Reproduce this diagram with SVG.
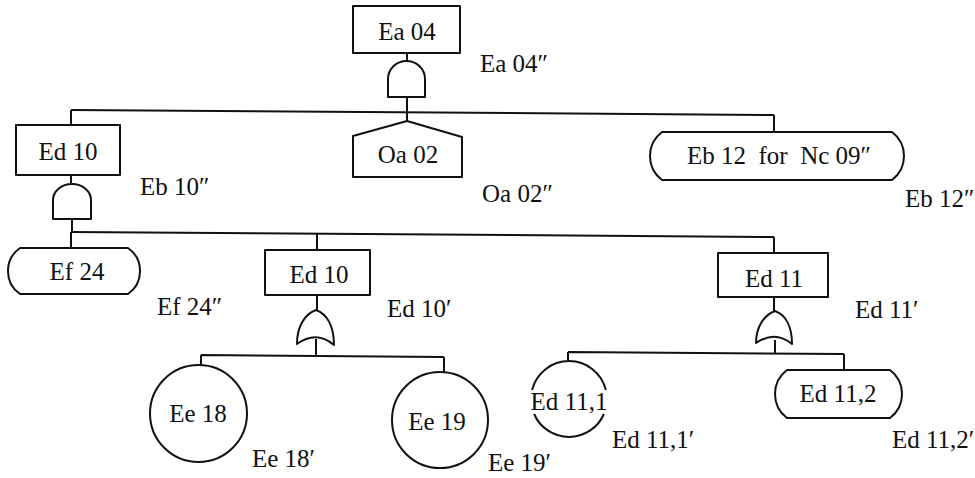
<svg xmlns="http://www.w3.org/2000/svg" width="975" height="478" viewBox="0 0 975 478">
<style>
.s{fill:none;stroke:#111;stroke-width:2;stroke-linejoin:round}
.n{fill:#fff;stroke:#111;stroke-width:2;stroke-linejoin:round}
text{font-family:'Liberation Serif','DejaVu Serif',serif;font-size:25px;fill:#111}
.c{text-anchor:middle}
</style>
<rect width="975" height="478" fill="#fff"/>
<g id="connectors" class="s">
<path d="M407,53V61M407,97V121"/>
<path d="M71,110L774,115"/>
<path d="M71,110V125M774,115V132"/>
<path d="M71,175V184M72,219V232"/>
<path d="M71,232L774,237"/>
<path d="M71,232V248M317,233V250M774,237V253"/>
<path d="M317,295V310M316,339V355"/>
<path d="M201,355L444,357M201,355V365M444,357V372"/>
<path d="M774,297V311M775,340V353"/>
<path d="M568,352L844,354M568,352V360M844,354V370"/>
</g>
<g id="Ea04">
<rect class="n" x="353" y="6" width="107" height="47"/>
<text class="c" x="407" y="40">Ea 04</text>
<text x="480" y="72">Ea 04″</text>
</g>
<g id="gate-and-1"><path class="n" d="M388,97V79A18.5,18 0 0 1 425,79V97Z"/></g>
<g id="Oa02">
<path class="n" d="M407,121L462,137V177H353V136Z"/>
<text class="c" x="408" y="163">Oa 02</text>
<text x="482" y="202">Oa 02″</text>
</g>
<g id="Eb12">
<path class="n" d="M662,132H892A30,30 0 0 1 892,180H662A30,30 0 0 1 662,132Z"/>
<text class="c" x="779" y="164" xml:space="preserve">Eb 12  for  Nc 09″</text>
<text x="905" y="207">Eb 12″</text>
</g>
<g id="Ed10a">
<rect class="n" x="16" y="125" width="104" height="50"/>
<text class="c" x="68" y="160">Ed 10</text>
<text x="140" y="195">Eb 10″</text>
</g>
<g id="gate-and-2"><path class="n" d="M53,219V200A19,16 0 0 1 91,200V219Z"/></g>
<g id="Ef24">
<path class="n" d="M20,248H128A28,28 0 0 1 128,294H20A28,28 0 0 1 20,248Z"/>
<text class="c" x="77" y="280">Ef 24</text>
<text x="157" y="315">Ef 24″</text>
</g>
<g id="Ed10b">
<rect class="n" x="265" y="250" width="105" height="45"/>
<text class="c" x="319" y="283">Ed 10</text>
<text x="387" y="317">Ed 10′</text>
</g>
<g id="gate-or-1"><path class="n" d="M316,310C305,314 297,326 297,344Q316,330 334,345C334,326 327,314 316,310Z"/></g>
<g id="Ed11">
<rect class="n" x="718" y="253" width="110" height="44"/>
<text class="c" x="774" y="287">Ed 11</text>
<text x="855" y="318">Ed 11′</text>
</g>
<g id="gate-or-2"><path class="n" d="M775,311C764,315 756,327 756,343Q775,330 792,344C792,327 786,315 775,311Z"/></g>
<g id="Ee18">
<circle class="n" cx="198.5" cy="413.5" r="48.5"/>
<text class="c" x="198" y="422">Ee 18</text>
<text x="252" y="467">Ee 18′</text>
</g>
<g id="Ee19">
<circle class="n" cx="440" cy="420" r="48"/>
<text class="c" x="437" y="430">Ee 19</text>
<text x="488" y="471">Ee 19′</text>
</g>
<g id="Ed11-1">
<path class="s" d="M532.1,390A38,38 0 0 1 605.9,390M603.9,414A38,38 0 0 1 534.1,414"/>
<text class="c" x="569" y="410">Ed 11,1</text>
<text x="612" y="448">Ed 11,1′</text>
</g>
<g id="Ed11-2">
<path class="n" d="M787,370H890A30,30 0 0 1 890,418H787A30,30 0 0 1 787,370Z"/>
<text class="c" x="838" y="402">Ed 11,2</text>
<text x="892" y="448">Ed 11,2′</text>
</g>
</svg>
